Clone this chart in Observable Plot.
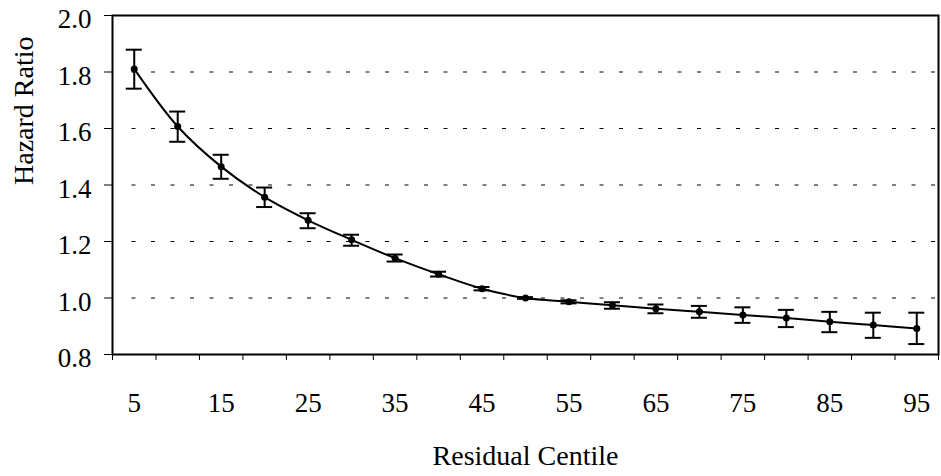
<!DOCTYPE html>
<html>
<head>
<meta charset="utf-8">
<script src="https://cdn.jsdelivr.net/npm/d3@7"></script>
<script src="https://cdn.jsdelivr.net/npm/@observablehq/plot@0.6"></script>
<style>
  html, body { margin: 0; padding: 0; background: white; }
  #chart svg, #chart svg text, #chart svg g { font-family: "Liberation Serif", serif !important; }
</style>
</head>
<body>
<div id="chart"></div>
<script>
const centiles = [5, 10, 15, 20, 25, 30, 35, 40, 45, 50, 55, 60, 65, 70, 75, 80, 85, 90, 95];
const hazard = [1.811, 1.607, 1.465, 1.357, 1.275, 1.206, 1.141, 1.084, 1.033, 1.000, 0.987, 0.974, 0.962, 0.951, 0.940, 0.929, 0.916, 0.904, 0.892];
const lower  = [1.741, 1.553, 1.422, 1.322, 1.247, 1.185, 1.129, 1.076, 1.027, 0.997, 0.981, 0.962, 0.946, 0.930, 0.912, 0.897, 0.879, 0.859, 0.837];
const upper  = [1.879, 1.660, 1.507, 1.391, 1.300, 1.224, 1.154, 1.093, 1.039, 1.003, 0.992, 0.985, 0.977, 0.972, 0.967, 0.958, 0.951, 0.948, 0.948];
const xTickLabels = [5, 15, 25, 35, 45, 55, 65, 75, 85, 95];
const yTicks = [0.8, 1.0, 1.2, 1.4, 1.6, 1.8, 2.0];
const yGrid = [1.0, 1.2, 1.4, 1.6, 1.8];
const xLabel = "Residual Centile";
const yLabel = "Hazard Ratio";

const data = centiles.map((c, i) => ({c, hr: hazard[i], lo: lower[i], hi: upper[i]}));
// category boundaries between the centile bands
const bandEdges = [2.5, ...centiles.map(c => c + 2.5)];
const serif = "Liberation Serif";

const chart = Plot.plot({
  width: 941,
  height: 476,
  marginLeft: 112,
  marginRight: 3,
  marginTop: 15,
  marginBottom: 122,
  style: {fontFamily: serif, fontSize: "27px", background: "white", color: "black"},
  x: {domain: [2.5, 97.5]},
  y: {domain: [0.8, 2.0]},
  marks: [
    Plot.ruleY(yGrid, {y: d => d, stroke: "black", strokeWidth: 1, strokeDasharray: "4,15.5", strokeDashoffset: 4, insetLeft: 4}),
    Plot.axisX({ticks: bandEdges, tickSize: 6, tickFormat: () => "", stroke: "black", strokeWidth: 1, label: null}),
    Plot.axisX({ticks: xTickLabels, tickSize: 0, tickPadding: 38, tickFormat: d => String(d), fontSize: 27, fontFamily: serif, label: null}),
    Plot.axisY({ticks: yTicks, tickSize: 8, tickFormat: () => "", stroke: "black", strokeWidth: 1, label: null}),
    Plot.axisY({ticks: yTicks, tickSize: 0, tickPadding: 21, dy: 4, tickFormat: d3.format(".1f"), fontSize: 27, fontFamily: serif, label: null}),
    Plot.frame({stroke: "black", strokeWidth: 2}),
    Plot.ruleX(data, {x: "c", y1: "lo", y2: "hi", stroke: "black", strokeWidth: 2}),
    Plot.ruleY(data, {x1: "c", x2: "c", y: "lo", stroke: "black", strokeWidth: 2, insetLeft: -8, insetRight: -8}),
    Plot.ruleY(data, {x1: "c", x2: "c", y: "hi", stroke: "black", strokeWidth: 2, insetLeft: -8, insetRight: -8}),
    Plot.line(data, {x: "c", y: "hr", stroke: "black", strokeWidth: 2, curve: "catmull-rom"}),
    Plot.dot(data, {x: "c", y: "hr", r: 3.5, fill: "black", stroke: "none"}),
    Plot.text([xLabel], {frameAnchor: "bottom", dy: 102, text: d => d, fontSize: 28, fontFamily: serif, lineAnchor: "middle", fill: "black"}),
    Plot.text([yLabel], {frameAnchor: "left", dx: -88, rotate: -90, text: d => d, fontSize: 28, fontFamily: serif, lineAnchor: "middle", fill: "black"})
  ]
});
document.getElementById("chart").appendChild(chart);
</script>
</body>
</html>
